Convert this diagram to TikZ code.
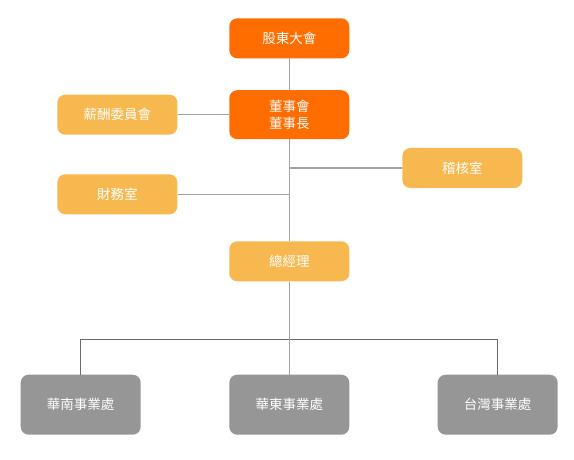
\documentclass[tikz,border=0pt]{standalone}
\usepackage{fontspec}
\setmainfont{Noto Sans CJK TC}
\begin{document}
\begin{tikzpicture}[x=1pt,y=-1pt,
  box/.style={rectangle, rounded corners=8pt, inner sep=0pt, minimum width=120pt, minimum height=40pt,
    text=white, font=\fontsize{13.5}{17.3}\selectfont, align=center},
  topbox/.style={box, fill=orgdark},
  subbox/.style={box, fill=orglight},
  unitbox/.style={box, fill=unitgray, minimum height=60pt},
  link/.style={draw=linegray, line width=1.5pt},
  bus/.style={draw=busgray, line width=1pt}]
\definecolor{orgdark}{HTML}{FF6D00}
\definecolor{orglight}{HTML}{F7B84F}
\definecolor{unitgray}{HTML}{969696}
\definecolor{linegray}{HTML}{A3A3A3}
\definecolor{busgray}{HTML}{6A6A6A}
\useasboundingbox[fill=white] (0,0) rectangle (574,460);
\node[topbox] (gd) at (289.3,38.3) {股東大會};
\node[topbox, minimum height=49pt] (board) at (289.3,114.7) {董事會\\董事長};
\node[subbox] (salary) at (117.3,114.7) {薪酬委員會};
\node[subbox] (audit) at (462.3,168) {稽核室};
\node[subbox] (finance) at (117.3,194.3) {財務室};
\node[subbox] (gm) at (289.3,261.3) {總經理};
\node[unitbox] (hn) at (80.7,404.7) {華南事業處};
\node[unitbox] (hd) at (289.3,404.7) {華東事業處};
\node[unitbox] (tw) at (497.7,404.7) {台灣事業處};
\coordinate (busy) at (289.3,339.5);
\draw[bus] (hn.north) |- (busy) -| (tw.north);
\draw[link] (gd.south) -- (board.north);
\draw[link] (salary.east) -- (board.west);
\draw[link] (board.south) -- (gm.north);
\draw[link] (board.south |- audit.west) -- (audit.west);
\draw[link] (board.south |- finance.east) -- (finance.east);
\draw[link] (gm.south) -- (hd.north);
\end{tikzpicture}
\end{document}
